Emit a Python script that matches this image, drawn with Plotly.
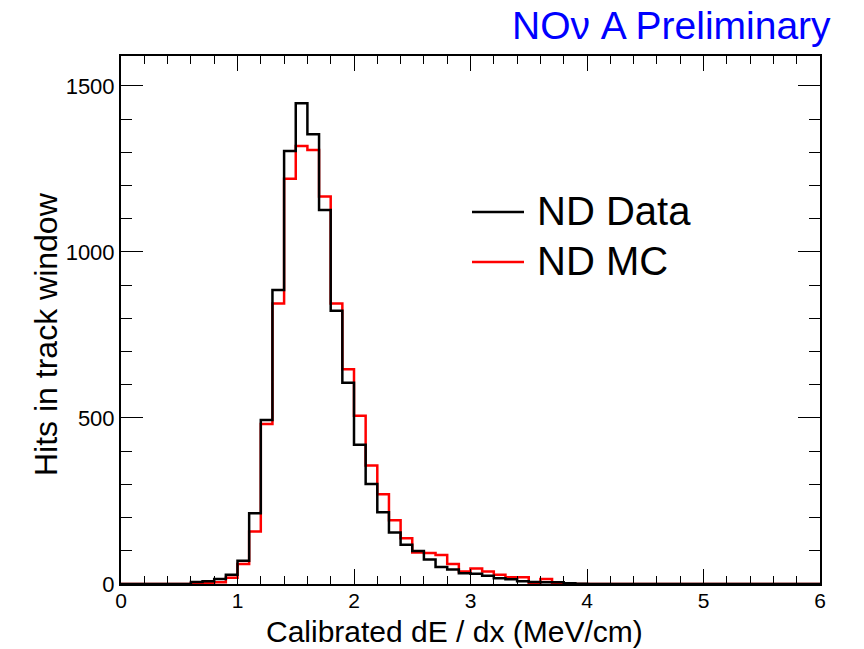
import plotly.graph_objects as go

# Bin edges: 0.0 .. 6.0 in steps of 0.1 (60 bins)
bin_edges = [round(i * 0.1, 1) for i in range(61)]

# ND Data (black) counts per bin, starting at bin 0.0-0.1
data_counts = [0, 0, 0, 0, 0, 0,          # 0.0 - 0.6
               6, 8, 15, 28,              # 0.6 - 1.0
               70, 213, 494, 885, 1304,   # 1.0 - 1.5
               1448, 1354, 1126, 823, 606,  # 1.5 - 2.0
               419, 301, 216, 155, 118,   # 2.0 - 2.5
               99, 74, 51, 44, 32,        # 2.5 - 3.0
               31, 25, 17, 14, 8,         # 3.0 - 3.5
               6, 5, 5, 2, 1,             # 3.5 - 4.0
               0, 0, 0, 0, 0, 0, 0, 0, 0, 0,
               0, 0, 0, 0, 0, 0, 0, 0, 0, 0]

# ND MC (red) counts per bin
mc_counts = [0, 0, 0, 0, 0, 0,
             2, 3, 5, 19,
             60, 158, 482, 845, 1220,
             1319, 1307, 1167, 845, 647,
             507, 357, 270, 192, 138,
             95, 93, 87, 60, 38,
             47, 38, 28, 20, 20,
             3, 15, 2, 0, 0,
             0, 0, 0, 0, 0, 0, 0, 0, 0, 0,
             0, 0, 0, 0, 0, 0, 0, 0, 0, 0]

series_names = ["ND Data", "ND MC"]
series_colors = ["#000000", "#ff0000"]

x_tick_vals = [0, 1, 2, 3, 4, 5, 6]
y_tick_vals = [0, 500, 1000, 1500]

W, H = 864, 649
L, R, T, B = 121, 44, 56, 65
pw, ph = W - L - R, H - T - B


def px2paper_x(px):
    return (px - L) / pw


def px2paper_y(py):
    return (H - B - py) / ph


def step_xy(counts):
    return bin_edges, list(counts) + [counts[-1]]


fig = go.Figure()
for counts, name, color in [(mc_counts, series_names[1], series_colors[1]),
                            (data_counts, series_names[0], series_colors[0])]:
    xs, ys = step_xy(counts)
    fig.add_trace(go.Scatter(x=xs, y=ys, mode="lines", line_shape="hv",
                             line=dict(color=color, width=2.5), name=name,
                             showlegend=False, hoverinfo="skip"))

font_family = "Liberation Sans, Arial, Helvetica, sans-serif"

fig.update_layout(
    width=W, height=H,
    margin=dict(l=L, r=R, t=T, b=B, pad=0),
    paper_bgcolor="white", plot_bgcolor="white",
    font=dict(family=font_family, color="black"),
    xaxis=dict(range=[0, 6], tickvals=x_tick_vals, ticks="inside",
               ticklen=15, tickwidth=1.2, tickcolor="black",
               minor=dict(dtick=0.2, ticks="inside", ticklen=8, tickwidth=1.2, tickcolor="black"),
               showline=True, linewidth=2, linecolor="black", mirror="allticks",
               showgrid=False, zeroline=False, ticklabelstandoff=-3,
               tickfont=dict(size=21, family=font_family, color="black")),
    yaxis=dict(range=[0, 1590], tickvals=y_tick_vals, ticks="inside",
               ticklen=22, tickwidth=1.2, tickcolor="black",
               minor=dict(dtick=100, ticks="inside", ticklen=11, tickwidth=1.2, tickcolor="black"),
               showline=True, linewidth=2, linecolor="black", mirror="allticks",
               showgrid=False, zeroline=False,
               tickfont=dict(size=22, family=font_family, color="black")),
)

annotations = [
    dict(text="Calibrated dE / dx (MeV/cm)", x=px2paper_x(454), y=px2paper_y(631),
         xref="paper", yref="paper", xanchor="center", yanchor="middle", showarrow=False,
         font=dict(size=30, family=font_family, color="black")),
    dict(text="Hits in track window", x=px2paper_x(46), y=px2paper_y(334),
         xref="paper", yref="paper", xanchor="center", yanchor="middle", showarrow=False,
         textangle=-90, font=dict(size=32, family=font_family, color="black")),
    dict(text="NOν A Preliminary", x=px2paper_x(833), y=px2paper_y(26),
         xref="paper", yref="paper", xanchor="right", yanchor="middle", showarrow=False,
         font=dict(size=39, family=font_family, color="#0000ff")),
]
shapes = []
legend_rows = [(series_names[0], series_colors[0], 211), (series_names[1], series_colors[1], 261)]
for name, color, py in legend_rows:
    shapes.append(dict(type="line", xref="paper", yref="paper",
                       x0=px2paper_x(472), x1=px2paper_x(524),
                       y0=px2paper_y(py + 1), y1=px2paper_y(py + 1),
                       line=dict(color=color, width=2.5)))
    annotations.append(dict(text=name, x=px2paper_x(535), y=px2paper_y(py),
                            xref="paper", yref="paper", xanchor="left", yanchor="middle",
                            showarrow=False,
                            font=dict(size=40, family=font_family, color="black")))

fig.update_layout(annotations=annotations, shapes=shapes)
fig.write_html("out.html")
